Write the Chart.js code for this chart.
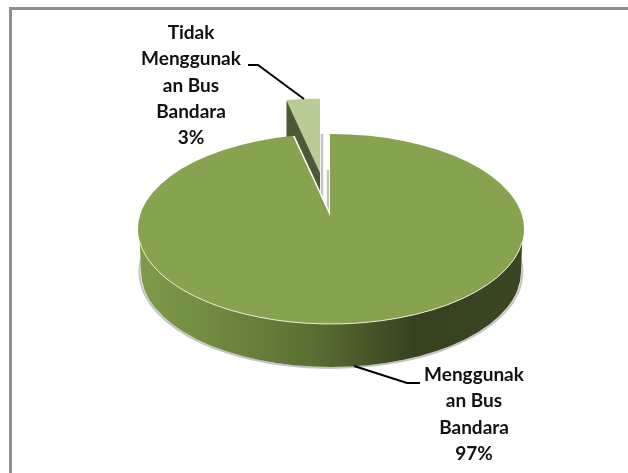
<!DOCTYPE html>
<html>
<head>
<meta charset="utf-8">
<style>
  html, body { margin: 0; padding: 0; background: #fff; }
  canvas { display: block; }
</style>
<script src="https://cdn.jsdelivr.net/npm/chart.js@4"></script>
</head>
<body>
<canvas id="pie" width="628" height="473"></canvas>
<script>
const categories = ['Menggunakan Bus Bandara', 'Tidak Menggunakan Bus Bandara'];
const values = [97, 3];
const labelLines = [
  ['Menggunak', 'an Bus', 'Bandara'],
  ['Tidak', 'Menggunak', 'an Bus', 'Bandara']
];
const topColors = ['#87a350', '#b9cc96'];

// tilted pie geometry
const ellipse = { x: 331, y: 229, rx: 193, ry: 95, depth: 43, bottomRx: 190, wallStart: 0.137 };
const TILT = 0.4125;
const mainSlice = { x: 330, y: 216, radius: 420 };
const smallSlice = { x: 320, y: 173, radius: 180, side: '#4d5a35' };
const labelPos = [{ x: 474, y: 375 }, { x: 191, y: 33 }];
const LINE_H = 26.2;

function sector(ctx, el, where, fill) {
  const scale = where.radius / el.outerRadius;
  const old = el.options;
  el.options = { ...old, backgroundColor: fill };
  ctx.save();
  ctx.translate(where.x, where.y);
  ctx.scale(scale, scale * TILT);
  ctx.translate(-el.x, -el.y);
  el.draw(ctx);
  ctx.restore();
  el.options = old;
}

function sideGradient(ctx, el) {
  // gradient lives in the element's own coordinates
  const scale = mainSlice.radius / el.outerRadius;
  const toLocal = (px) => el.x + (px - mainSlice.x) / scale;
  const g = ctx.createLinearGradient(toLocal(138), 0, toLocal(524), 0);
  g.addColorStop(0, '#7f9b4a');
  g.addColorStop(0.18, '#728c41');
  g.addColorStop(0.45, '#5a6f33');
  g.addColorStop(0.72, '#364120');
  g.addColorStop(1, '#3b4722');
  return g;
}

function line(ctx, pts, color, width) {
  ctx.beginPath();
  pts.forEach((p, i) => { i ? ctx.lineTo(p[0], p[1]) : ctx.moveTo(p[0], p[1]); });
  ctx.strokeStyle = color;
  ctx.lineWidth = width;
  ctx.stroke();
}

const pie3d = {
  id: 'pie3d',
  beforeDatasetsDraw(chart) {
    const ctx = chart.ctx;
    const [main, small] = chart.getDatasetMeta(0).data;
    const e = ellipse;

    // soft shadow under the side wall
    ctx.beginPath();
    ctx.ellipse(e.x, e.y + e.depth, e.bottomRx + 1.5, e.ry + 1, 0, -0.25, Math.PI + 0.25);
    ctx.strokeStyle = '#c4c4c8';
    ctx.lineWidth = 2;
    ctx.stroke();

    // side wall of the big slice
    ctx.save();
    ctx.beginPath();
    ctx.ellipse(e.x, e.y + e.depth, e.bottomRx, e.ry, 0, 0, Math.PI);
    ctx.ellipse(e.x, e.y, e.rx, e.ry, 0, Math.PI - e.wallStart, e.wallStart, true);
    ctx.closePath();
    ctx.clip();
    sector(ctx, main, { x: mainSlice.x, y: mainSlice.y + e.depth, radius: mainSlice.radius }, sideGradient(ctx, main));
    ctx.restore();

    // grey slivers inside the gap
    line(ctx, [[322, 134], [322, 196]], '#c4c4c8', 2.5);
    line(ctx, [[328, 170], [328, 214]], '#c4c4c8', 2.5);

    // exploded small slice
    for (let dy = e.depth; dy > 0; dy--) {
      sector(ctx, small, { x: smallSlice.x, y: smallSlice.y + dy, radius: smallSlice.radius }, smallSlice.side);
    }
    sector(ctx, small, smallSlice, topColors[1]);

    // top of the big slice
    ctx.save();
    ctx.beginPath();
    ctx.ellipse(e.x, e.y, e.rx, e.ry, 0, 0, Math.PI * 2);
    ctx.clip();
    line(ctx, [[293, 136], [mainSlice.x, mainSlice.y]], '#ffffff', 3);
    sector(ctx, main, mainSlice, topColors[0]);
    ctx.restore();

    ctx.beginPath();
    ctx.ellipse(e.x, e.y, e.rx, e.ry, 0, e.wallStart, Math.PI - e.wallStart);
    ctx.strokeStyle = '#e4ead6';
    ctx.lineWidth = 1;
    ctx.stroke();
    return false;
  },
  afterDraw(chart) {
    const ctx = chart.ctx;
    // frame of the pasted chart
    ctx.fillStyle = '#8e8e8e';
    ctx.fillRect(9, 7, 619, 3);
    ctx.fillRect(9, 7, 3, 466);

    line(ctx, [[248, 65], [258, 65], [304, 99]], '#000', 2);
    line(ctx, [[354, 366], [407, 383], [420, 383]], '#000', 2);

    ctx.fillStyle = '#111';
    ctx.font = '700 19px Lato';
    ctx.textAlign = 'center';
    ctx.textBaseline = 'middle';
    values.forEach((v, i) => {
      const lines = labelLines[i].concat(v + '%');
      lines.forEach((txt, n) => {
        ctx.fillText(txt, labelPos[i].x, labelPos[i].y + n * LINE_H);
      });
    });
  }
};

new Chart(document.getElementById('pie'), {
  type: 'pie',
  data: {
    labels: categories,
    datasets: [{
      data: values,
      backgroundColor: topColors,
      borderWidth: 0
    }]
  },
  options: {
    responsive: false,
    animation: false,
    plugins: {
      legend: { display: false },
      tooltip: { enabled: false }
    }
  },
  plugins: [pie3d]
});
</script>
</body>
</html>
